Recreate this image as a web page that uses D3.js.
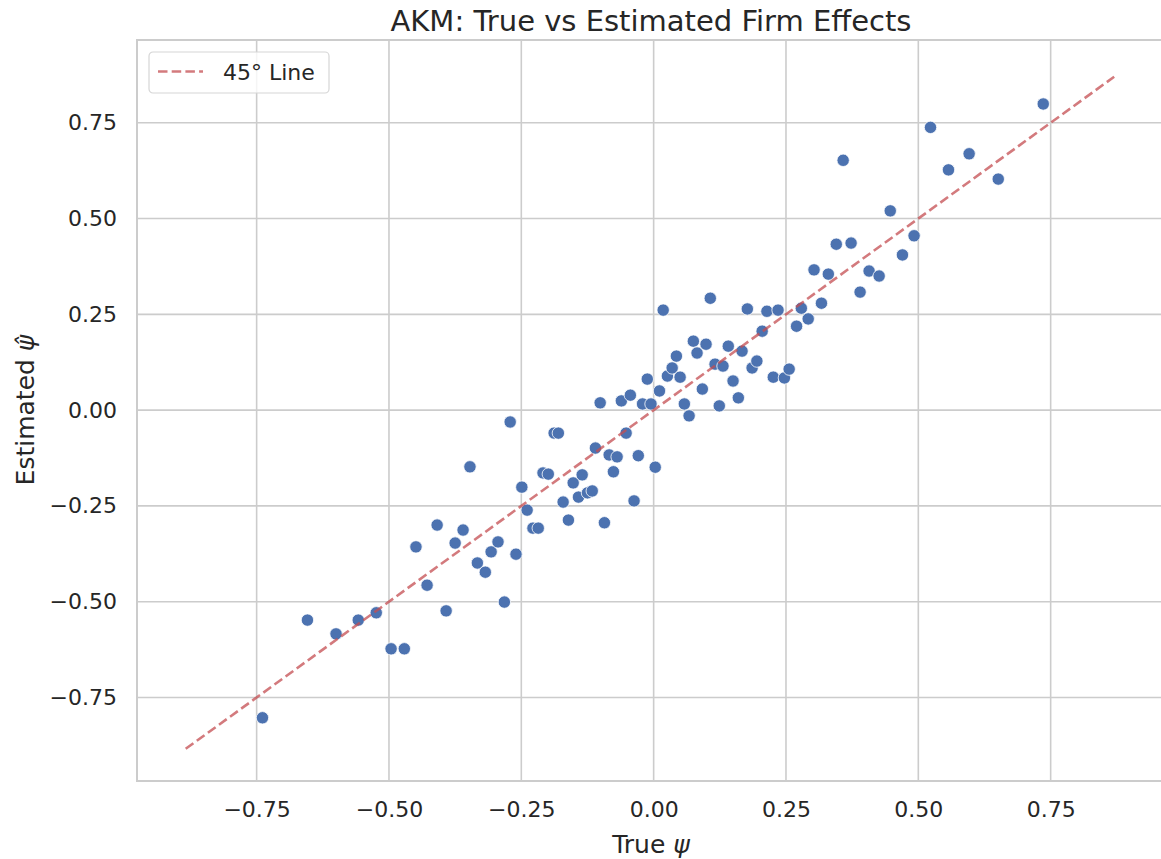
<!DOCTYPE html>
<html>
<head>
<meta charset="utf-8">
<script src="https://cdn.jsdelivr.net/npm/d3@7"></script>
<style>
  body { margin: 0; background: #fff; }
  text { font-family: "DejaVu Sans", sans-serif; fill: #262626; }
</style>
</head>
<body>
<div id="chart"></div>
<script>
// true firm effects (psi) and AKM estimates, one entry per firm
var trueEffects = [-0.739,-0.654,-0.600,-0.558,-0.524,-0.496,-0.471,-0.449,-0.428,-0.409,
  -0.392,-0.375,-0.360,-0.347,-0.333,-0.318,-0.307,-0.294,-0.282,-0.271,
  -0.260,-0.249,-0.239,-0.228,-0.218,-0.209,-0.199,-0.188,-0.180,-0.171,
  -0.161,-0.152,-0.142,-0.135,-0.125,-0.116,-0.110,-0.101,-0.093,-0.084,
  -0.076,-0.069,-0.061,-0.052,-0.044,-0.037,-0.029,-0.021,-0.012,-0.005,
  0.003,0.011,0.018,0.026,0.035,0.043,0.050,0.058,0.067,0.075,
  0.082,0.092,0.099,0.107,0.116,0.124,0.131,0.141,0.150,0.160,
  0.167,0.177,0.186,0.195,0.205,0.214,0.226,0.235,0.247,0.256,
  0.270,0.279,0.292,0.317,0.303,0.330,0.345,0.358,0.373,0.390,
  0.407,0.426,0.447,0.470,0.492,0.523,0.557,0.596,0.651,0.736];

var estEffects = [-0.803,-0.548,-0.584,-0.548,-0.529,-0.623,-0.623,-0.357,-0.457,-0.300,
  -0.524,-0.347,-0.313,-0.148,-0.399,-0.423,-0.370,-0.344,-0.501,-0.031,
  -0.376,-0.201,-0.261,-0.308,-0.308,-0.164,-0.167,-0.060,-0.060,-0.240,
  -0.287,-0.190,-0.227,-0.169,-0.216,-0.211,-0.099,0.019,-0.294,-0.117,
  -0.161,-0.122,0.024,-0.060,0.039,-0.237,-0.119,0.016,0.081,0.016,
  -0.149,0.050,0.261,0.089,0.110,0.141,0.086,0.016,-0.015,0.180,
  0.149,0.055,0.172,0.292,0.120,0.011,0.115,0.167,0.076,0.032,
  0.154,0.264,0.110,0.128,0.206,0.258,0.086,0.261,0.084,0.107,
  0.219,0.266,0.238,0.279,0.366,0.355,0.433,0.652,0.436,0.308,
  0.363,0.350,0.520,0.405,0.455,0.738,0.627,0.669,0.603,0.799];

var xTicks = [-0.75, -0.50, -0.25, 0.00, 0.25, 0.50, 0.75];
var yTicks = [-0.75, -0.50, -0.25, 0.00, 0.25, 0.50, 0.75];
var xDomain = [-0.976, 0.966];
var yDomain = [-0.968, 0.966];
var lineEnds = [-0.884, 0.870];

var points = trueEffects.map(function (d, i) { return { x: d, y: estEffects[i] }; });

var width = 1161, height = 859;
var margin = { top: 40, left: 137 };
var plotW = 1028, plotH = 741;

var svg = d3.select("#chart").append("svg")
  .attr("width", width)
  .attr("height", height);

var g = svg.append("g")
  .attr("transform", "translate(" + margin.left + "," + margin.top + ")");

var x = d3.scaleLinear().domain(xDomain).range([0, plotW]);
var y = d3.scaleLinear().domain(yDomain).range([plotH, 0]);

var fmt = function (d) { return d3.format(".2f")(d).replace("-", "\u2212"); };

// grid lines
g.append("g").selectAll("line").data(xTicks).enter().append("line")
  .attr("x1", function (d) { return x(d); }).attr("x2", function (d) { return x(d); })
  .attr("y1", 0).attr("y2", plotH)
  .attr("stroke", "#cccccc").attr("stroke-width", 1.6);

g.append("g").selectAll("line").data(yTicks).enter().append("line")
  .attr("y1", function (d) { return y(d); }).attr("y2", function (d) { return y(d); })
  .attr("x1", 0).attr("x2", plotW)
  .attr("stroke", "#cccccc").attr("stroke-width", 1.6);

// spines
g.append("rect")
  .attr("x", 0).attr("y", 0)
  .attr("width", plotW).attr("height", plotH)
  .attr("fill", "none")
  .attr("stroke", "#cccccc").attr("stroke-width", 2);

// axes (labels only, no tick marks)
var xAxis = d3.axisBottom(x).tickValues(xTicks).tickFormat(fmt).tickSize(0).tickPadding(20);
var yAxis = d3.axisLeft(y).tickValues(yTicks).tickFormat(fmt).tickSize(0).tickPadding(20);

var gx = g.append("g").attr("transform", "translate(0," + plotH + ")").call(xAxis);
var gy = g.append("g").call(yAxis);
[gx, gy].forEach(function (a) {
  a.select(".domain").remove();
  a.selectAll("text").style("font-family", "DejaVu Sans").style("font-size", "22px").attr("fill", "#262626");
});

// scatter points
g.append("g").selectAll("circle").data(points).enter().append("circle")
  .attr("cx", function (d) { return x(d.x); })
  .attr("cy", function (d) { return y(d.y); })
  .attr("r", 6.2)
  .attr("fill", "#4c72b0")
  .attr("stroke", "#ffffff")
  .attr("stroke-width", 0.8);

// 45 degree line
g.append("line")
  .attr("x1", x(lineEnds[0])).attr("y1", y(lineEnds[0]))
  .attr("x2", x(lineEnds[1])).attr("y2", y(lineEnds[1]))
  .attr("stroke", "#c44e52").attr("stroke-opacity", 0.75)
  .attr("stroke-width", 2.6)
  .attr("stroke-dasharray", "9.5,4.2");

// legend
var leg = g.append("g").attr("transform", "translate(12,12)");
leg.append("rect")
  .attr("width", 180).attr("height", 41).attr("rx", 4)
  .attr("fill", "#ffffff").attr("fill-opacity", 0.8)
  .attr("stroke", "#d6d6d6").attr("stroke-width", 1.2);
leg.append("line")
  .attr("x1", 9).attr("x2", 54).attr("y1", 19.5).attr("y2", 19.5)
  .attr("stroke", "#c44e52").attr("stroke-opacity", 0.75)
  .attr("stroke-width", 2.6).attr("stroke-dasharray", "9.5,4.2");
leg.append("text")
  .attr("x", 74).attr("y", 27.5)
  .style("font-size", "22px")
  .text("45\u00b0 Line");

// title and axis labels
svg.append("text")
  .attr("x", margin.left + plotW / 2).attr("y", 31)
  .attr("text-anchor", "middle")
  .style("font-size", "29px")
  .text("AKM: True vs Estimated Firm Effects");

var xl = svg.append("text")
  .attr("x", margin.left + plotW / 2).attr("y", 853)
  .attr("text-anchor", "middle")
  .style("font-size", "25px");
xl.append("tspan").text("True ");
xl.append("tspan").style("font-style", "italic").text("\u03c8");

var yl = svg.append("text")
  .attr("transform", "translate(34,410) rotate(-90)")
  .attr("text-anchor", "middle")
  .style("font-size", "25px");
yl.append("tspan").text("Estimated ");
yl.append("tspan").style("font-style", "italic").text("\u03c8\u0302");
</script>
</body>
</html>
